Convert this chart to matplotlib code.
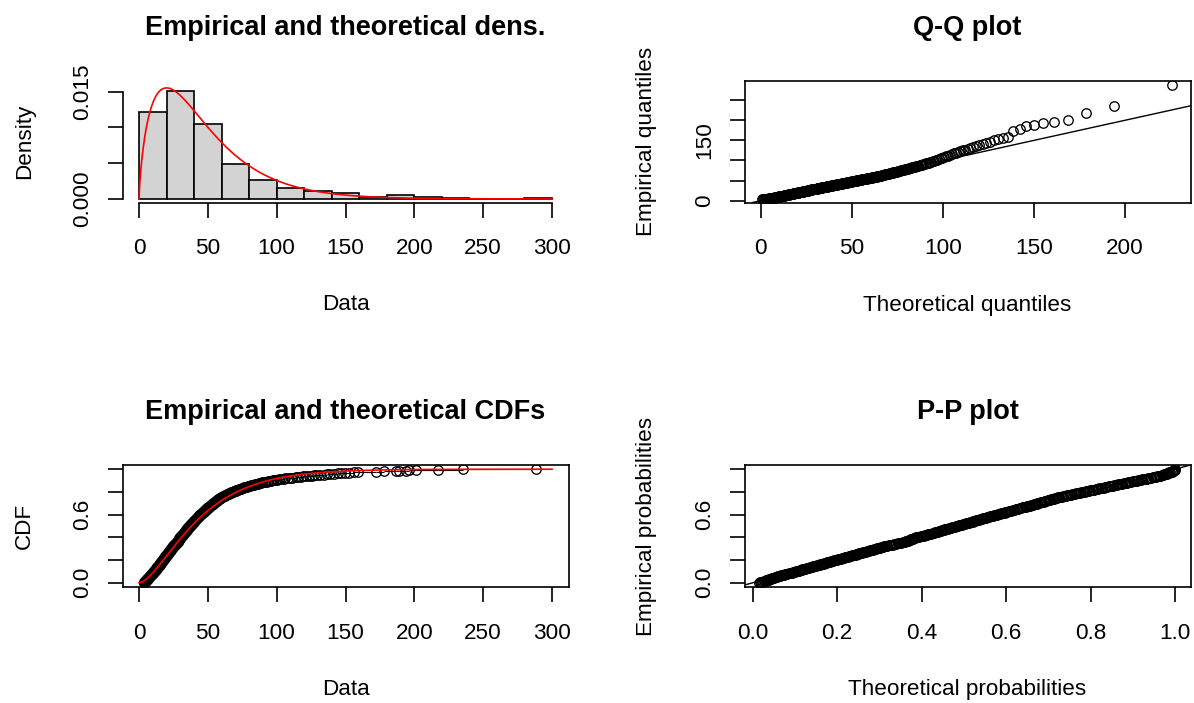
import math
import numpy as np
import matplotlib
matplotlib.use('Agg')
import matplotlib.pyplot as plt

# -------------------------------------------------------------------
obs_0_20 = [
    3.4, 3.7, 3.9, 4.2, 4.4, 4.7, 4.9,
    5.1, 5.2, 5.4, 5.6, 5.8, 5.9, 6.1, 6.3, 6.5, 6.6, 6.8, 7.0, 7.1, 7.3,
    7.5, 7.7, 7.8, 8.0, 8.2, 8.4, 8.5, 8.7, 8.9, 9.1, 9.3, 9.5, 9.8,
    10.1, 10.2, 10.4, 10.5, 10.7, 10.9, 11.0, 11.2, 11.3, 11.5, 11.7, 11.8,
    12.0, 12.1, 12.3, 12.5, 12.6, 12.8, 12.9, 13.1, 13.2, 13.4, 13.6, 13.7,
    13.9, 14.0, 14.2, 14.3, 14.5, 14.7, 14.9,
    15.0, 15.2, 15.3, 15.5, 15.6, 15.8, 15.9, 16.1, 16.2, 16.4, 16.5, 16.7,
    16.8, 17.0, 17.1, 17.3, 17.4, 17.6, 17.7, 17.9, 18.0, 18.2, 18.3, 18.5,
    18.6, 18.8, 18.9, 19.1, 19.2, 19.4, 19.5, 19.7, 19.9,
]
obs_20_40 = [
    20.1, 20.2, 20.4, 20.5, 20.7, 20.8, 21.0, 21.1, 21.3, 21.4, 21.6, 21.7,
    21.9, 22.0, 22.2, 22.3, 22.5, 22.6, 22.8, 22.9, 23.1, 23.2, 23.4, 23.5,
    23.7, 23.8, 24.0, 24.1, 24.3, 24.4, 24.6, 24.7, 24.9,
    25.1, 25.3, 25.5, 25.7, 25.9, 26.1, 26.3, 26.5, 26.7, 26.9, 27.1, 27.3,
    27.5, 27.7, 27.9, 28.0, 28.2, 28.3, 28.5, 28.6, 28.7, 28.8, 28.9, 29.0,
    29.1, 29.2, 29.3, 29.5, 29.6, 29.7, 29.8, 30.0,
    30.2, 30.4, 30.6, 30.8, 31.0, 31.2, 31.3, 31.5, 31.7, 31.9, 32.0, 32.2,
    32.4, 32.6, 32.7, 32.9, 33.1, 33.2, 33.4, 33.6, 33.7, 33.9, 34.0, 34.2,
    34.3, 34.5, 34.6, 34.7, 34.8, 35.0,
    35.2, 35.4, 35.6, 35.8, 36.0, 36.2, 36.4, 36.6, 36.7, 36.9, 37.1, 37.3,
    37.5, 37.7, 37.8, 38.0, 38.2, 38.4, 38.6, 38.7, 38.9, 39.1, 39.3, 39.4,
    39.6, 39.8, 39.9,
]
obs_40_60 = [
    40.1, 40.3, 40.5, 40.7, 40.9, 41.1, 41.3, 41.5, 41.7, 41.9, 42.1, 42.3,
    42.5, 42.7, 42.9, 43.1, 43.3, 43.5, 43.7, 43.9, 44.1, 44.3, 44.5, 44.7,
    44.9,
    45.1, 45.3, 45.6, 45.8, 46.0, 46.3, 46.5, 46.7, 46.9, 47.2, 47.4, 47.6,
    47.8, 48.1, 48.3, 48.5, 48.8, 49.0, 49.2, 49.4, 49.7, 49.9,
    50.1, 50.4, 50.6, 50.9, 51.1, 51.4, 51.6, 51.9, 52.1, 52.4, 52.6, 52.9,
    53.1, 53.4, 53.6, 53.9, 54.1, 54.4, 54.6, 54.9,
    55.1, 55.4, 55.7, 56.0, 56.2, 56.5, 56.8, 57.1, 57.3, 57.6, 57.9, 58.2,
    58.4, 58.7, 59.0, 59.3, 59.5, 59.8,
]
obs_60_100 = [
    60.2, 60.6, 61.0, 61.4, 61.8, 62.2, 62.6, 63.0, 63.5, 63.9, 64.3, 64.8,
    65.2, 65.7, 66.1, 66.6, 67.0, 67.5, 67.9, 68.4, 68.8, 69.3, 69.7,
    70.3, 70.8, 71.4, 71.9, 72.5, 73.0, 73.6, 74.1, 74.7,
    75.3, 75.9, 76.6, 77.2, 77.8, 78.4, 79.1, 79.7,
    80.4, 81.2, 81.9, 82.7, 83.4, 84.2, 84.9, 85.7, 86.5, 87.3, 88.0, 88.8,
    89.6,
    90.5, 91.6, 92.7, 93.8, 94.9, 96.0, 97.1, 98.2, 99.4,
]
obs_tail = [
    100.4, 101.9, 103.2, 105.1, 106.3, 108.4, 110.2, 111.1, 113.8, 115.2,
    117.9, 119.3,
    121.0, 123.4, 125.6, 127.1, 129.5, 131.8, 134.2, 136.5, 138.9,
    141.5, 144.2, 147.0, 149.8, 152.6, 155.9, 159.2,
    172.5, 178.0,
    186.5, 189.0, 194.0, 196.0,
    201.0, 217.5,
    235.0,
    288.5,
]

# fitted gamma distribution
shape = 1.75
rate = 0.0375

breaks = np.arange(0, 301, 20)
data_ticks = [0, 50, 100, 150, 200, 250, 300]
dens_ticks = [0, 0.005, 0.010, 0.015]
dens_labels = ['0.000', '', '', '0.015']
qq_xticks = [0, 50, 100, 150, 200]
qq_yticks = [0, 50, 100, 150, 200, 250]
qq_ylabels = ['0', '', '', '150', '', '']
prob_ticks = [0, 0.2, 0.4, 0.6, 0.8, 1.0]
prob_xlabels = ['0.0', '0.2', '0.4', '0.6', '0.8', '1.0']
prob_ylabels = ['0.0', '', '', '0.6', '', '']

# Theoretical gamma pdf / cdf / quantiles on a fine grid
# ------------------------------------------------------
grid = np.linspace(0, 800, 400001)
pdf = rate ** shape * grid ** (shape - 1) * np.exp(-rate * grid) / math.gamma(shape)
cdf = np.concatenate([[0.0], np.cumsum((pdf[1:] + pdf[:-1]) / 2 * np.diff(grid))])
cdf /= cdf[-1]

x = np.sort(np.concatenate([obs_0_20, obs_20_40, obs_40_60, obs_60_100, obs_tail]))
n = len(x)
ppts = (np.arange(1, n + 1) - 0.5) / n
ecdf = np.arange(1, n + 1) / n
theo_q = np.interp(ppts, cdf, grid)
theo_p = np.interp(x, grid, cdf)

xs = np.linspace(breaks[0], breaks[-1], 601)
dens_curve = np.interp(xs, grid, pdf)
cdf_curve = np.interp(xs, grid, cdf)

# Figure
# ------
plt.rcParams['font.family'] = ['Liberation Sans', 'DejaVu Sans']
W, H = 1194, 703
fig = plt.figure(figsize=(W / 100, H / 100), dpi=100)


def panel(left, top, right, bottom):
    return fig.add_axes([left / W, 1 - bottom / H, (right - left) / W, (bottom - top) / H])


def style(ax, title, xlabel, ylabel):
    ax.set_title(title, fontsize=19.5, fontweight='bold', pad=33)
    ax.set_xlabel(xlabel, fontsize=16.2, va='center')
    ax.set_ylabel(ylabel, fontsize=16.2, va='center')
    ax.xaxis.set_label_coords(0.5, -102.5 / 122)
    ax.yaxis.set_label_coords(-98 / 446, 0.5)
    ax.tick_params(direction='out', length=10.8, width=1.2, labelsize=16.2)
    ax.tick_params(axis='x', pad=15)
    ax.tick_params(axis='y', pad=10)
    for s in ax.spines.values():
        s.set_linewidth(1.2)


pt = dict(marker='o', linestyle='none', mfc='none', mec='black', ms=6.8, mew=0.95)

# Empirical and theoretical densities
ax1 = panel(122.5, 80.5, 568.5, 202.5)
ax1.hist(x, bins=breaks, density=True, facecolor='#D3D3D3', edgecolor='black', linewidth=1.2)
ax1.plot(xs, dens_curve, color='red', lw=1.2)
ax1.set_xlim(-12, 312)
ax1.set_ylim(-0.0005, 0.01657)
ax1.set_xticks(data_ticks)
ax1.set_yticks(dens_ticks, dens_labels, rotation=90, va='center')
ax1.spines['top'].set_visible(False)
ax1.spines['right'].set_visible(False)
ax1.spines['left'].set_bounds(dens_ticks[0], dens_ticks[-1])
ax1.spines['bottom'].set_bounds(data_ticks[0], data_ticks[-1])
style(ax1, 'Empirical and theoretical dens.', 'Data', 'Density')

# Q-Q plot
ax2 = panel(744.5, 80.5, 1190.5, 202.5)
ax2.plot(theo_q, x, **pt)
ax2.axline((0, 0), slope=1, color='black', lw=1.0)
ax2.set_xlim(-8.9, 236.0)
ax2.set_ylim(-4.5, 299.0)
ax2.set_xticks(qq_xticks)
ax2.set_yticks(qq_yticks, qq_ylabels, rotation=90, va='center')
style(ax2, 'Q-Q plot', 'Theoretical quantiles', 'Empirical quantiles')

# Empirical and theoretical CDFs
ax3 = panel(122.5, 465, 568.5, 587)
ax3.hlines(ecdf[:-1], x[:-1], x[1:], color='black', lw=0.8)
ax3.plot(x, ecdf, **pt)
ax3.plot(xs, cdf_curve, color='red', lw=1.2)
ax3.set_xlim(-12, 312)
ax3.set_ylim(-0.037, 1.037)
ax3.set_xticks(data_ticks)
ax3.set_yticks(prob_ticks, prob_ylabels, rotation=90, va='center')
style(ax3, 'Empirical and theoretical CDFs', 'Data', 'CDF')

# P-P plot
ax4 = panel(744.5, 465, 1190.5, 587)
ax4.plot(theo_p, ppts, **pt)
ax4.axline((0, 0), slope=1, color='black', lw=1.0)
ax4.set_xlim(-0.0194, 1.0367)
ax4.set_ylim(-0.037, 1.037)
ax4.set_xticks(prob_ticks, prob_xlabels)
ax4.set_yticks(prob_ticks, prob_ylabels, rotation=90, va='center')
style(ax4, 'P-P plot', 'Theoretical probabilities', 'Empirical probabilities')

fig.savefig('out.png', dpi=100)
